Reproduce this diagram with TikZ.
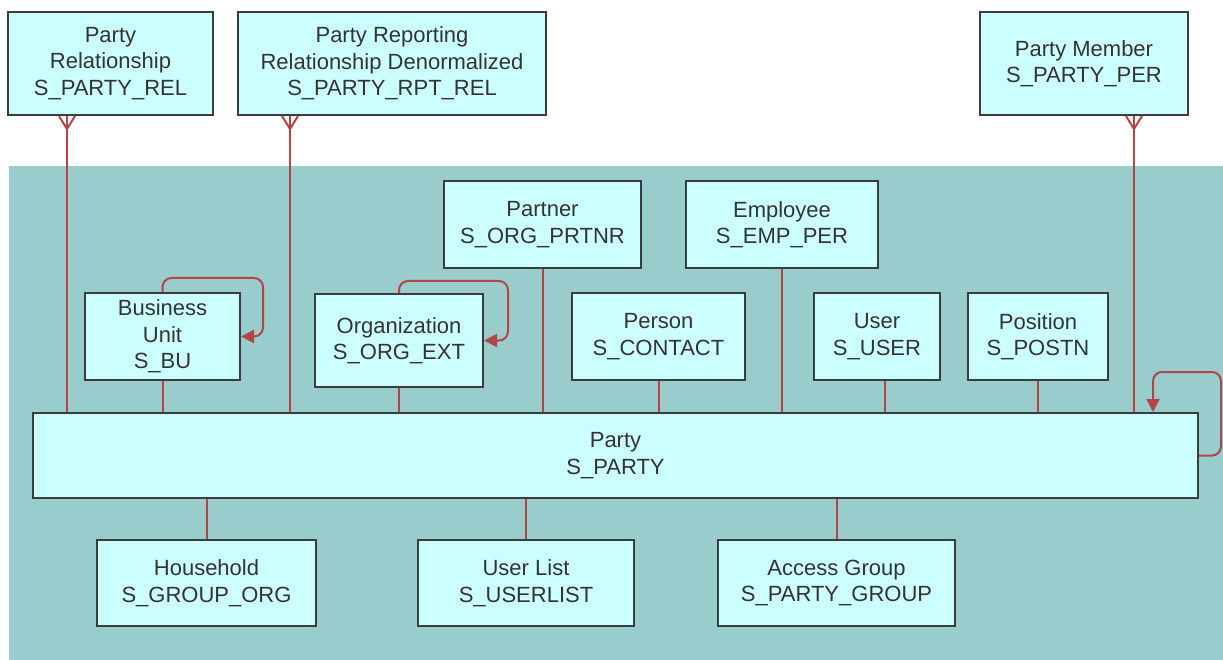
\documentclass[tikz,border=0pt]{standalone}
\usepackage{fontspec}
\setmainfont{Liberation Sans}
\usetikzlibrary{arrows,arrows.meta,positioning}
\definecolor{panel}{RGB}{153,204,204}
\definecolor{boxfill}{RGB}{204,255,255}
\definecolor{boxline}{RGB}{60,60,60}
\definecolor{link}{RGB}{178,70,70}
\tikzset{
    entity/.style={rectangle,draw=boxline,fill=boxfill,line width=2pt,align=center,text=black!80,
        font=\fontsize{22}{26.5}\selectfont,inner sep=0pt},
    rel/.style={-,draw=link,line width=2pt},
    selfref/.style={-{Triangle[length=13pt,width=13pt]},draw=link,line width=2pt,rounded corners=9pt}
}
\newcommand{\manyend}[1]{\draw[rel] ([xshift=-8pt]#1) -- ([yshift=-13pt]#1) -- ([xshift=8pt]#1);}

\begin{document}
\begin{tikzpicture}[x=1pt,y=-1pt]

    \useasboundingbox (0,0) rectangle (1223,660);
    \fill[panel] (9,166) rectangle (1223,660);

    % outside the panel
    \node[entity,minimum width=205,minimum height=103] (prel) at (110.5,63.5) {Party\\Relationship\\S\_PARTY\_REL};
    \node[entity,minimum width=308,minimum height=103] (prpt) at (392,63.5) {Party Reporting\\Relationship Denormalized\\S\_PARTY\_RPT\_REL};
    \node[entity,minimum width=208,minimum height=103] (pmem) at (1084,63.5) {Party Member\\S\_PARTY\_PER};

    % upper rows
    \node[entity,minimum width=197,minimum height=87] (partner)  at (542.5,224.5) {Partner\\S\_ORG\_PRTNR};
    \node[entity,minimum width=192,minimum height=87] (employee) at (782,224.5)   {Employee\\S\_EMP\_PER};
    \node[entity,minimum width=155,minimum height=87] (bu)       at (162.5,336.5) {Business\\Unit\\S\_BU};
    \node[entity,minimum width=168,minimum height=93] (org)      at (399,340.5)   {Organization\\S\_ORG\_EXT};
    \node[entity,minimum width=173,minimum height=87] (person)   at (658.5,336.5) {Person\\S\_CONTACT};
    \node[entity,minimum width=126,minimum height=87] (user)     at (877,336.5)   {User\\S\_USER};
    \node[entity,minimum width=140,minimum height=87] (postn)    at (1038,336.5)  {Position\\S\_POSTN};

    % party
    \node[entity,minimum width=1165,minimum height=85] (party) at (615.5,455.5) {Party\\S\_PARTY};

    % lower row
    \node[entity,minimum width=219,minimum height=86] (household) at (206.5,583) {Household\\S\_GROUP\_ORG};
    \node[entity,minimum width=216,minimum height=86] (userlist)  at (526,583)   {User List\\S\_USERLIST};
    \node[entity,minimum width=237,minimum height=86] (agroup)    at (836.5,583) {Access Group\\S\_PARTY\_GROUP};

    % many ends
    \coordinate (prel foot) at (prel.south -| 67,0);
    \coordinate (prpt foot) at (prpt.south -| 290,0);
    \coordinate (pmem foot) at (pmem.south -| 1134,0);
    \manyend{prel foot}
    \manyend{prpt foot}
    \manyend{pmem foot}
    \draw[rel] (prel foot) -- (party.north -| prel foot);
    \draw[rel] (prpt foot) -- (party.north -| prpt foot);
    \draw[rel] (pmem foot) -- (party.north -| pmem foot);

    \draw[rel] (bu) -- (party.north -| bu);
    \draw[rel] (org) -- (party.north -| org);
    \draw[rel] (partner) -- (party.north -| partner);
    \draw[rel] (person) -- (party.north -| person);
    \draw[rel] (employee) -- (party.north -| employee);
    \draw[rel] (user.south -| 885,0) -- (party.north -| 885,0);
    \draw[rel] (postn) -- (party.north -| postn);

    \draw[rel] (household) -- (party.south -| household);
    \draw[rel] (userlist) -- (party.south -| userlist);
    \draw[rel] (agroup) -- (party.south -| agroup);

    % self references
    \draw[selfref] (bu.north) -- ++(0,-14) -| ([xshift=22pt]bu.east) -- (bu.east);
    \draw[selfref] (org.north) -- ++(0,-12) -| ([xshift=24pt]org.east) -- (org.east);
    \draw[selfref] (party.east) -- ++(22,0) |- ([yshift=40pt]party.north -| 1153,0) -- (party.north -| 1153,0);

\end{tikzpicture}
\end{document}
